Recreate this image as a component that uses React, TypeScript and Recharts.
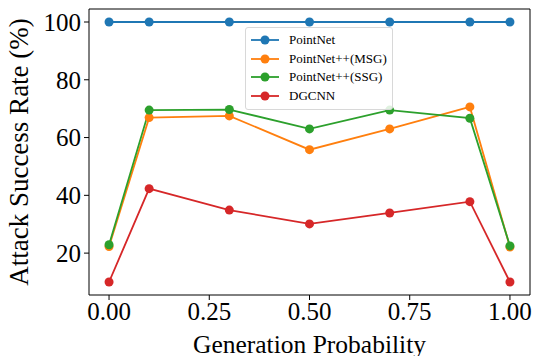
import { LineChart, Line, XAxis, YAxis } from "recharts";

const probs = [0, 0.1, 0.3, 0.5, 0.7, 0.9, 1.0];
const pointNet = [100, 100, 100, 100, 100, 100, 100];
const pointNetMsg = [22.3, 66.9, 67.5, 55.8, 63, 70.6, 22.1];
const pointNetSsg = [22.9, 69.5, 69.7, 63, 69.5, 66.7, 22.5];
const dgcnn = [10, 42.3, 34.9, 30.1, 33.9, 37.8, 10];

const xTicks = [0, 0.25, 0.5, 0.75, 1.0];
const yTicks = [20, 40, 60, 80, 100];

const data = probs.map((p, i) => ({
  p,
  pointNet: pointNet[i],
  msg: pointNetMsg[i],
  ssg: pointNetSsg[i],
  dgcnn: dgcnn[i],
}));

const font = "'Liberation Serif', 'Times New Roman', serif";

const series = [
  { key: "pointNet", name: "PointNet", color: "#1f77b4" },
  { key: "msg", name: "PointNet++(MSG)", color: "#ff7f0e" },
  { key: "ssg", name: "PointNet++(SSG)", color: "#2ca02c" },
  { key: "dgcnn", name: "DGCNN", color: "#d62728" },
];

function LegendBox() {
  return (
    <div
      style={{
        position: "absolute",
        left: 245,
        top: 27,
        width: 148,
        boxSizing: "border-box",
        border: "1px solid #d8d8d8",
        borderRadius: 3,
        background: "rgba(255,255,255,0.85)",
        padding: "3px 4px 4px 4px",
        fontFamily: font,
        fontSize: 13,
        color: "#000",
      }}
    >
      {series.map((s) => (
        <div key={s.key} style={{ display: "flex", alignItems: "center", height: 18.5 }}>
          <svg width={30} height={12} style={{ marginRight: 9 }}>
            <line x1={1} y1={6} x2={29} y2={6} stroke={s.color} strokeWidth={1.8} />
            <circle cx={15} cy={6} r={4.5} fill={s.color} />
          </svg>
          <span>{s.name}</span>
        </div>
      ))}
    </div>
  );
}

export default function App() {
  return (
    <div style={{ position: "absolute", left: 0, top: 0, width: 536, height: 356, background: "#fff" }}>
      <LineChart width={536} height={356} data={data} margin={{ top: 9, right: 6, left: 0, bottom: 0 }}>
        <XAxis
          dataKey="p"
          type="number"
          domain={[-0.05, 1.05]}
          ticks={xTicks}
          tickFormatter={(v: number) => v.toFixed(2)}
          height={61}
          stroke="#000"
          tickSize={5}
          tickMargin={2}
          tick={{ fontFamily: font, fontSize: 25, fill: "#000" }}
          label={{
            value: "Generation Probability",
            position: "insideBottom",
            offset: 3,
            style: { fontFamily: font, fontSize: 25.5, fill: "#000" },
          }}
        />
        <YAxis
          type="number"
          domain={[5.5, 104.5]}
          ticks={yTicks}
          width={89}
          stroke="#000"
          tickSize={5}
          tickMargin={3}
          tick={{ fontFamily: font, fontSize: 25, fill: "#000" }}
          label={{
            value: "Attack Success Rate (%)",
            angle: -90,
            position: "insideLeft",
            offset: 18,
            style: { fontFamily: font, fontSize: 27, fill: "#000", textAnchor: "middle" },
          }}
        />
        {series.map((s) => (
          <Line
            key={s.key}
            dataKey={s.key}
            name={s.name}
            stroke={s.color}
            strokeWidth={1.8}
            dot={{ r: 4.5, fill: s.color, stroke: s.color, strokeWidth: 0 }}
            activeDot={false}
            isAnimationActive={false}
          />
        ))}
        <line x1={89} y1={9} x2={530} y2={9} stroke="#000" />
        <line x1={530} y1={9} x2={530} y2={295} stroke="#000" />
      </LineChart>
      <LegendBox />
    </div>
  );
}
